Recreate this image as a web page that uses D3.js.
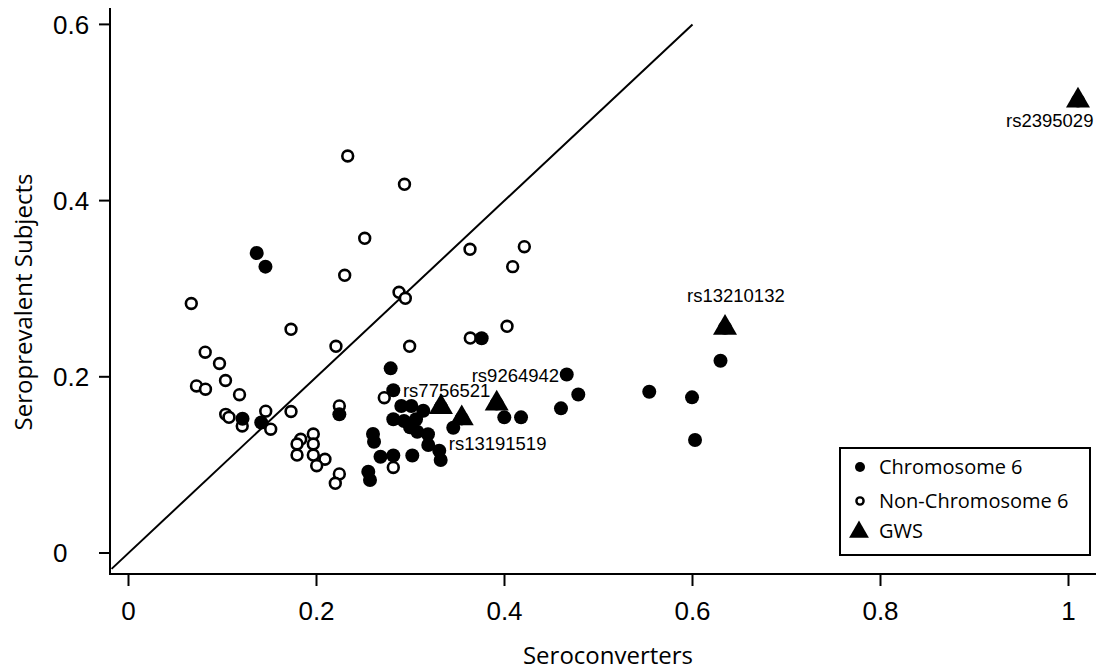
<!DOCTYPE html>
<html>
<head>
<meta charset="utf-8">
<script src="https://cdn.jsdelivr.net/npm/d3@7"></script>
<style>
  body { margin: 0; background: #fff; }
  svg { display: block; }
</style>
</head>
<body>
<div id="chart"></div>
<script>
// chromosome 6 SNPs: [seroconverters, seroprevalent]
const chr6 = [
  [0.1364, 0.3405], [0.1457, 0.3250], [0.1213, 0.1523], [0.1412, 0.1481],
  [0.2243, 0.1574], [0.2789, 0.2096], [0.2817, 0.1847], [0.3455, 0.1421],
  [0.2902, 0.1669], [0.3009, 0.1669], [0.3136, 0.1615], [0.2817, 0.1518],
  [0.2931, 0.1498], [0.3059, 0.1518], [0.2995, 0.1427], [0.3072, 0.1377],
  [0.3186, 0.1348], [0.3189, 0.1226], [0.3306, 0.1161], [0.3321, 0.1056],
  [0.3019, 0.1107], [0.2817, 0.1107], [0.2681, 0.1093], [0.2601, 0.1351],
  [0.2612, 0.1263], [0.2551, 0.0923], [0.2569, 0.0829], [0.3757, 0.2438],
  [0.4662, 0.2026], [0.4785, 0.1799], [0.4601, 0.1642], [0.3998, 0.1540],
  [0.4176, 0.1540], [0.5540, 0.1831], [0.5995, 0.1767], [0.6027, 0.1283],
  [0.6298, 0.2183]
];

const nonChr6 = [
  [0.2332, 0.4506], [0.2936, 0.4185], [0.2513, 0.3572], [0.2300, 0.3152],
  [0.0668, 0.2832], [0.1729, 0.2539], [0.3633, 0.3447], [0.4211, 0.3477],
  [0.4087, 0.3250], [0.2878, 0.2959], [0.2945, 0.2891], [0.2207, 0.2346],
  [0.2991, 0.2346], [0.3636, 0.2440], [0.4027, 0.2573], [0.0816, 0.2279],
  [0.0968, 0.2151], [0.1032, 0.1958], [0.0723, 0.1896], [0.0819, 0.1859],
  [0.1181, 0.1797], [0.1034, 0.1574], [0.1069, 0.1540], [0.1210, 0.1442],
  [0.1460, 0.1610], [0.1513, 0.1405], [0.1729, 0.1606], [0.2243, 0.1669],
  [0.2721, 0.1763], [0.1966, 0.1351], [0.1832, 0.1291], [0.1793, 0.1237],
  [0.1966, 0.1237], [0.1793, 0.1112], [0.1966, 0.1112], [0.2090, 0.1064],
  [0.2002, 0.0991], [0.2243, 0.0897], [0.2200, 0.0791], [0.2817, 0.0971]
];

// genome-wide significant SNPs
const gwsNames = ["rs7756521", "rs13191519", "rs9264942", "rs13210132", "rs2395029"];
const gwsValues = [
  [0.3324, 0.1656], [0.3545, 0.1528], [0.3917, 0.1696], [0.6346, 0.2556], [1.0101, 0.5135]
];

const xTicks = [0, 0.2, 0.4, 0.6, 0.8, 1];
const yTicks = [0, 0.2, 0.4, 0.6];
const legendLabels = ["Chromosome 6", "Non-Chromosome 6", "GWS"];

const width = 1096, height = 670;
const axisX = 110, axisY = 574;

const x = d3.scaleLinear().domain([0, 1]).range([128.5, 1068.5]);
const y = d3.scaleLinear().domain([0, 0.6]).range([553, 24.4]);

const svg = d3.select("#chart").append("svg")
  .attr("width", width)
  .attr("height", height);

const tickFont = "'Liberation Sans', Arial, sans-serif";
const titleFont = "'Open Sans', 'Noto Sans', sans-serif";

// axes lines
svg.append("line")
  .attr("x1", axisX).attr("x2", axisX)
  .attr("y1", 8).attr("y2", axisY + 1)
  .attr("stroke", "#000").attr("stroke-width", 2);
svg.append("line")
  .attr("x1", axisX - 1).attr("x2", width)
  .attr("y1", axisY).attr("y2", axisY)
  .attr("stroke", "#000").attr("stroke-width", 2);

// y ticks
svg.selectAll(".ytick").data(yTicks).enter().append("line")
  .attr("class", "ytick")
  .attr("x1", axisX - 11).attr("x2", axisX)
  .attr("y1", d => y(d)).attr("y2", d => y(d))
  .attr("stroke", "#000").attr("stroke-width", 2);
svg.selectAll(".ylab").data(yTicks).enter().append("text")
  .attr("class", "ylab")
  .attr("x", 53)
  .attr("y", d => y(d))
  .attr("dy", "0.36em")
  .style("font-family", tickFont)
  .style("font-size", "26px")
  .text(d => d3.format("")(d));

// x ticks
svg.selectAll(".xtick").data(xTicks).enter().append("line")
  .attr("class", "xtick")
  .attr("x1", d => x(d)).attr("x2", d => x(d))
  .attr("y1", axisY).attr("y2", axisY + 12)
  .attr("stroke", "#000").attr("stroke-width", 2);
svg.selectAll(".xlab").data(xTicks).enter().append("text")
  .attr("class", "xlab")
  .attr("x", d => x(d))
  .attr("y", 620)
  .attr("text-anchor", "middle")
  .style("font-family", tickFont)
  .style("font-size", "26px")
  .text(d => d3.format("")(d));

// axis titles
svg.append("text")
  .attr("x", 608).attr("y", 664)
  .attr("text-anchor", "middle")
  .style("font-family", titleFont)
  .style("font-size", "24px")
  .text("Seroconverters");
svg.append("text")
  .attr("transform", "translate(32,302) rotate(-90)")
  .attr("text-anchor", "middle")
  .style("font-family", titleFont)
  .style("font-size", "24px")
  .text("Seroprevalent Subjects");

// identity line
svg.append("line")
  .attr("x1", x(-0.018)).attr("y1", y(-0.018))
  .attr("x2", x(0.6)).attr("y2", y(0.6))
  .attr("stroke", "#000").attr("stroke-width", 2);

// points
svg.selectAll(".open").data(nonChr6).enter().append("circle")
  .attr("class", "open")
  .attr("cx", d => x(d[0])).attr("cy", d => y(d[1]))
  .attr("r", 5.4)
  .attr("fill", "#fff")
  .attr("stroke", "#000").attr("stroke-width", 2.6);

svg.selectAll(".filled").data(chr6).enter().append("circle")
  .attr("class", "filled")
  .attr("cx", d => x(d[0])).attr("cy", d => y(d[1]))
  .attr("r", 7)
  .attr("fill", "#000");

const gws = gwsNames.map((name, i) => ({ name, sc: gwsValues[i][0], sp: gwsValues[i][1] }));

svg.selectAll(".gws-dot").data(gws).enter().append("circle")
  .attr("class", "gws-dot")
  .attr("cx", d => x(d.sc)).attr("cy", d => y(d.sp))
  .attr("r", 7)
  .attr("fill", "#000");

const tri = d3.symbol().type(d3.symbolTriangle).size(250);
svg.selectAll(".gws").data(gws).enter().append("path")
  .attr("class", "gws")
  .attr("d", tri)
  .attr("transform", d => `translate(${x(d.sc)},${y(d.sp)})`)
  .attr("fill", "#000");

// label offsets in px from the triangle
const labelOffset = {
  rs7756521: [-38, -10],
  rs13191519: [-13, 32],
  rs9264942: [-25, -22],
  rs13210132: [-38, -26],
  rs2395029: [-72, 26]
};
svg.selectAll(".gws-label").data(gws).enter().append("text")
  .attr("class", "gws-label")
  .attr("x", d => x(d.sc) + labelOffset[d.name][0])
  .attr("y", d => y(d.sp) + labelOffset[d.name][1])
  .style("font-family", tickFont)
  .style("font-size", "18.5px")
  .text(d => d.name);

// legend
const legend = svg.append("g").attr("transform", "translate(840,448)");
legend.append("rect")
  .attr("width", 250).attr("height", 107)
  .attr("fill", "#fff")
  .attr("stroke", "#000").attr("stroke-width", 2);

const rowY = [19, 53, 83];
legend.append("circle").attr("cx", 20).attr("cy", rowY[0]).attr("r", 5).attr("fill", "#000");
legend.append("circle").attr("cx", 20).attr("cy", rowY[1]).attr("r", 3.6)
  .attr("fill", "#fff").attr("stroke", "#000").attr("stroke-width", 2.4);
legend.append("path")
  .attr("d", d3.symbol().type(d3.symbolTriangle).size(170)())
  .attr("transform", `translate(19,${rowY[2] + 1})`)
  .attr("fill", "#000");

legend.selectAll(".legend-label").data(legendLabels).enter().append("text")
  .attr("class", "legend-label")
  .attr("x", 39)
  .attr("y", (d, i) => rowY[i])
  .attr("dy", "0.36em")
  .style("font-family", titleFont)
  .style("font-size", "20px")
  .text(d => d);
</script>
</body>
</html>
